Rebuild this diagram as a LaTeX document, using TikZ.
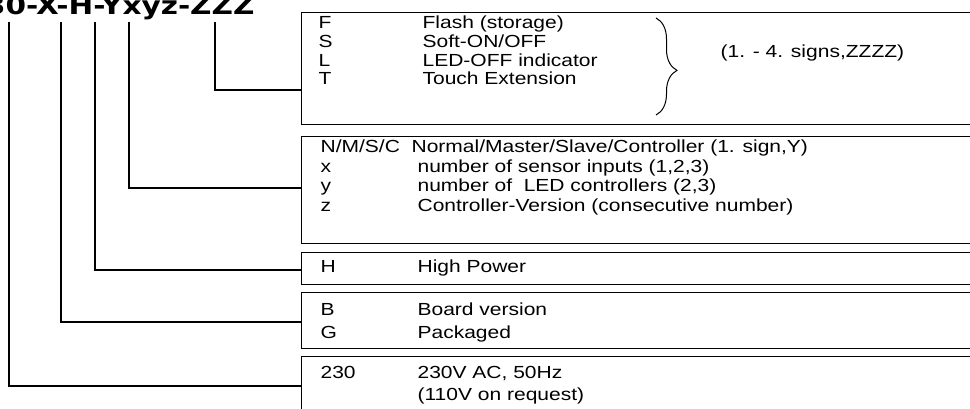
\documentclass[tikz,border=0pt]{standalone}
\usepackage{fontspec}
\setmainfont{Liberation Sans}
\newfontfamily\codefont{DejaVu Sans}
\usetikzlibrary{decorations.pathreplacing}

\newcommand\wide[1]{\scalebox{1.2}[1]{#1}}

\tikzset{
  box/.style={draw, line width=1.3pt, minimum width=700pt, anchor=north west, inner sep=0pt},
  row/.style={anchor=base west, inner sep=0pt, font=\fontsize{17.5}{21}\selectfont},
}

\begin{document}
\begin{tikzpicture}[x=1pt, y=-1pt, line width=1.2pt]
        \useasboundingbox (0,0) rectangle (970,409);

        \node[anchor=base east, inner sep=0pt, font=\codefont\bfseries\fontsize{25}{29}\selectfont] (code) at (255,15) {\scalebox{1.18}[1]{230-X-H-Yxyz-ZZZ}};

        \coordinate (V) at (9,22);
        \coordinate (G) at (61,22);
        \coordinate (H) at (95,22);
        \coordinate (Y) at (129,22);
        \coordinate (Z) at (215,22);

        \node[box, minimum height=112pt] (boxZ) at (301,12) {};
        \node[box, minimum height=107pt] (boxY) at (301,136) {};
        \node[box, minimum height=32pt] (boxH) at (301,252) {};
        \node[box, minimum height=56pt] (boxG) at (301,292) {};
        \node[box, minimum height=80pt] (boxV) at (301,356) {};

        \coordinate (eZ) at (301,90);
        \coordinate (eY) at (301,188);
        \coordinate (eH) at (301,270);
        \coordinate (eG) at (301,322);
        \coordinate (eV) at (301,386);

        \draw (Z) |- (eZ);
        \draw (Y) |- (eY);
        \draw (H) |- (eH);
        \draw (G) |- (eG);
        \draw (V) |- (eV);

        % options Z
        \node[row] (F) at (318,29) {\wide{F}};
        \node[row] (S) at (318,47.7) {\wide{S}};
        \node[row] (L) at (318,66.4) {\wide{L}};
        \node[row] (T) at (318,85) {\wide{T}};
        \node[row] (Ft) at (422,29) {\wide{Flash (storage)}};
        \node[row] (St) at (422,47.7) {\wide{Soft-ON/OFF}};
        \node[row] (Lt) at (422,66.4) {\wide{LED-OFF indicator}};
        \node[row] (Tt) at (422,85) {\wide{Touch Extension}};
        \draw[decorate, decoration={brace, amplitude=21pt, aspect=0.54}, line width=1pt] (656,18) -- (656,115);
        \node[row] (signs) at (720,58) {\wide{(1. - 4. signs,ZZZZ)}};

        % type Y, x, y, z
        \node[row] (N) at (320,153) {\wide{N/M/S/C\ \ Normal/Master/Slave/Controller (1. sign,Y)}};
        \node[row] (x) at (320,172.5) {\wide{x}};
        \node[row] (y) at (320,192) {\wide{y}};
        \node[row] (z) at (320,211.5) {\wide{z}};
        \node[row] (xt) at (417,172.5) {\wide{number of sensor inputs (1,2,3)}};
        \node[row] (yt) at (417,192) {\wide{number of\ \ LED controllers (2,3)}};
        \node[row] (zt) at (417,211.5) {\wide{Controller-Version (consecutive number)}};

        % power
        \node[row] (Hk) at (320,272.7) {\wide{H}};
        \node[row] (Ht) at (417,272.7) {\wide{High Power}};

        % housing
        \node[row] (Bk) at (320,315) {\wide{B}};
        \node[row] (Gk) at (320,338) {\wide{G}};
        \node[row] (Bt) at (417,315) {\wide{Board version}};
        \node[row] (Gt) at (417,338) {\wide{Packaged}};

        % voltage
        \node[row] (Vk) at (320,378) {\wide{230}};
        \node[row] (Vt) at (417,378) {\wide{230V AC, 50Hz}};
        \node[row] (Vr) at (417,400) {\wide{(110V on request)}};
\end{tikzpicture}
\end{document}
